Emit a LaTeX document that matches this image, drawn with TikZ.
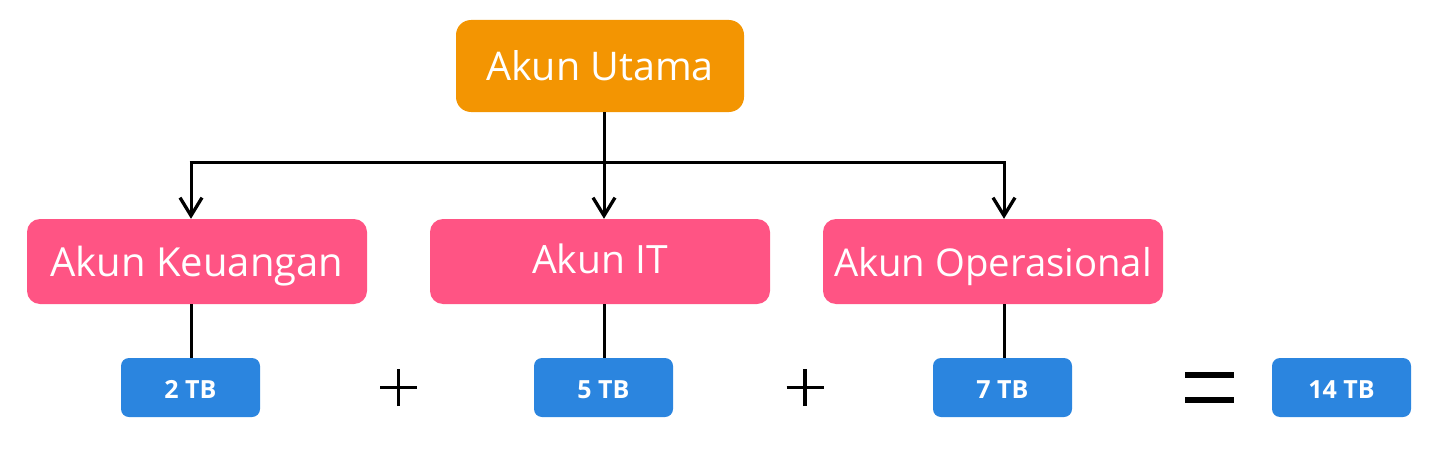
\documentclass[tikz,border=0pt]{standalone}
\usepackage{fontspec}
\setmainfont{Open Sans}
\usetikzlibrary{arrows.meta}
\definecolor{orangebox}{HTML}{F39502}
\definecolor{pinkbox}{HTML}{FF5484}
\definecolor{bluebox}{HTML}{2B85DF}
\begin{document}
\begin{tikzpicture}[x=1pt,y=-1pt,
  topbox/.style={fill=orangebox,rounded corners=15pt,minimum width=288pt,minimum height=92pt,text=white,font=\fontsize{39.5}{42}\selectfont,inner sep=0pt,text height=30pt,text depth=0pt},
  midbox/.style={fill=pinkbox,rounded corners=13pt,minimum width=340pt,minimum height=85pt,text=white,font=\fontsize{39}{42}\selectfont,inner sep=0pt,text height=29pt,text depth=0pt},
  tbbox/.style={fill=bluebox,rounded corners=8pt,minimum width=139pt,minimum height=59pt,text=white,font=\bfseries\fontsize{25}{28}\selectfont,inner sep=0pt,text height=21pt,text depth=0pt},
  conn/.style={line width=3pt,black},
  arr/.style={conn,-{Straight Barb[length=18pt,width=22pt,line width=3.3pt]}},
  opline/.style={line width=3.5pt,black}]
\useasboundingbox (0,0) rectangle (1450,460);
\node[topbox] (utama) at (600,66) {Akun Utama};
\node[midbox,font=\fontsize{40}{43}\selectfont] (keu) at (197,261.5) {Akun Keuangan};
\node[midbox,text height=23pt] (it) at (600,261.5) {Akun IT};
\node[midbox,font=\fontsize{38.3}{41}\selectfont] (ops) at (993,261.5) {Akun Operasional};
\node[tbbox] (t2) at (190.5,387.5) {2 TB};
\node[tbbox] (t5) at (603.5,387.5) {5 TB};
\node[tbbox] (t7) at (1002.5,387.5) {7 TB};
\node[tbbox] (t14) at (1341.5,387.5) {14 TB};
\coordinate (hl) at (191,162);
\coordinate (hr) at (1004,162);
\draw[arr] (utama.south -| 604,0) -- (it.north -| 604,0);
\draw[arr] (hr) -- (ops.north -| hr);
\draw[arr] (hl) -- (keu.north -| hl);
\draw[conn] ([xshift=-1.5pt]hl) -- ([xshift=1.5pt]hr);
\draw[conn] (keu.south -| 191,0) -- (t2.north -| 191,0);
\draw[conn] (it.south -| 604,0) -- (t5.north -| 604,0);
\draw[conn] (ops.south -| 1004,0) -- (t7.north -| 1004,0);
\coordinate (p1) at (398.5,387.5);
\draw[opline] ([xshift=-18.5pt]p1) -- ([xshift=18.5pt]p1) ([yshift=-18.5pt]p1) -- ([yshift=18.5pt]p1);
\coordinate (p2) at (805,387.5);
\draw[opline] ([xshift=-18.5pt]p2) -- ([xshift=18.5pt]p2) ([yshift=-18.5pt]p2) -- ([yshift=18.5pt]p2);
\coordinate (eq) at (1209.5,387.7);
\draw[line width=6pt] ([xshift=-24.5pt,yshift=-12.2pt]eq) -- ([xshift=24.5pt,yshift=-12.2pt]eq)
  ([xshift=-24.5pt,yshift=12.3pt]eq) -- ([xshift=24.5pt,yshift=12.3pt]eq);
\end{tikzpicture}
\end{document}
